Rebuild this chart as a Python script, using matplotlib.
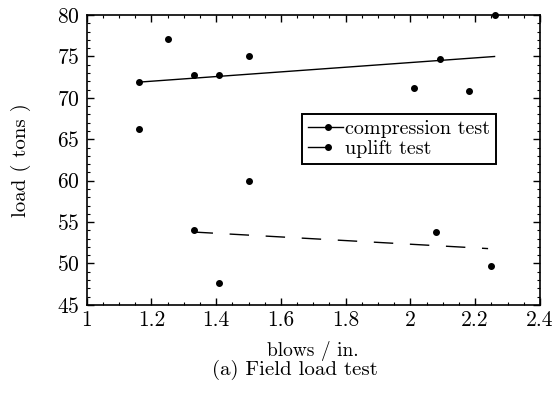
import matplotlib
matplotlib.use("Agg")
import matplotlib.pyplot as plt
from matplotlib.lines import Line2D
from matplotlib.legend_handler import HandlerBase
from matplotlib.ticker import MultipleLocator

# measured points (blows per inch, load in tons)
comp_x = [1.16, 1.16, 1.25, 1.33, 1.41, 1.50, 2.01, 2.09, 2.18, 2.26]
comp_y = [71.9, 66.3, 77.1, 72.8, 72.8, 75.1, 71.2, 74.7, 70.8, 80.0]
upl_x = [1.50, 1.33, 1.41, 2.08, 2.25]
upl_y = [60.0, 54.0, 47.6, 53.8, 49.7]

# fitted trend lines (end points)
comp_fit_x = [1.16, 2.26]
comp_fit_y = [71.9, 75.0]
upl_fit_x = [1.33, 2.24]
upl_fit_y = [53.8, 51.8]

plt.rcParams['font.family'] = ['cmr10', 'DejaVu Serif']
plt.rcParams['axes.formatter.use_mathtext'] = True


class DotLineHandler(HandlerBase):
    # short line with a dot on it, like the hand-drawn legend keys
    def __init__(self, line_frac, dot_frac):
        super().__init__()
        self.line_frac = line_frac
        self.dot_frac = dot_frac

    def create_artists(self, legend, orig_handle, xdescent, ydescent,
                       width, height, fontsize, trans):
        y = height / 2 - ydescent
        x0 = -xdescent
        x1 = x0 + self.line_frac * width
        xd = x0 + self.dot_frac * width
        line = Line2D([x0, x1], [y, y], color='black', lw=1.0)
        dot = Line2D([xd], [y], color='black', marker='o', ms=4, ls='none')
        line.set_transform(trans)
        dot.set_transform(trans)
        return [line, dot]


fig = plt.figure(figsize=(5.56, 3.97), dpi=100)
ax = fig.add_axes([0.156, 0.232, 0.815, 0.730])

ax.plot(comp_fit_x, comp_fit_y, '-', color='black', lw=1.0)
ax.plot(upl_fit_x, upl_fit_y, '--', color='black', lw=1.0, dashes=(14, 12))
ax.plot(comp_x, comp_y, 'o', color='black', ms=4, clip_on=False)
ax.plot(upl_x, upl_y, 'o', color='black', ms=4, clip_on=False)

ax.set_xlim(1, 2.4)
ax.set_ylim(45, 80)
ax.xaxis.set_minor_locator(MultipleLocator(0.05))
ax.yaxis.set_major_locator(MultipleLocator(5))
ax.yaxis.set_minor_locator(MultipleLocator(1))
ax.set_xticks([1, 1.2, 1.4, 1.6, 1.8, 2, 2.2, 2.4])
ax.set_xticklabels(['1', '1.2', '1.4', '1.6', '1.8', '2', '2.2', '2.4'])
ax.tick_params(which='both', direction='in', top=True, right=True,
               labelsize=15.5)
ax.tick_params(axis='y', pad=5)
ax.tick_params(axis='x', pad=4)
ax.tick_params(which='major', length=5, width=1)
ax.tick_params(which='minor', length=2.5, width=0.8)
for s in ax.spines.values():
    s.set_linewidth(1.2)

ax.set_xlabel('blows / in.', fontsize=14)
ax.set_ylabel('load ( tons )', fontsize=15)
ax.xaxis.set_label_coords(0.5, -0.125)
ax.yaxis.set_label_coords(-0.122, 0.5)

h_comp = Line2D([], [], color='black')
h_upl = Line2D([], [], color='black')
leg = ax.legend([h_comp, h_upl], ['compression test', 'uplift test'],
                loc='upper left', bbox_to_anchor=(0.475, 0.66),
                handler_map={h_comp: DotLineHandler(1.0, 0.57),
                             h_upl: DotLineHandler(0.57, 0.57)},
                fontsize=14.5, frameon=True, fancybox=False, framealpha=1,
                edgecolor='black', handlelength=1.75, handletextpad=0.1,
                borderpad=0.3, borderaxespad=0, labelspacing=0.1)
leg.get_frame().set_linewidth(1.4)

fig.text(0.53, 0.068, '(a) Field load test', ha='center', va='center',
         fontsize=15)

fig.savefig('out.png', dpi=100)
